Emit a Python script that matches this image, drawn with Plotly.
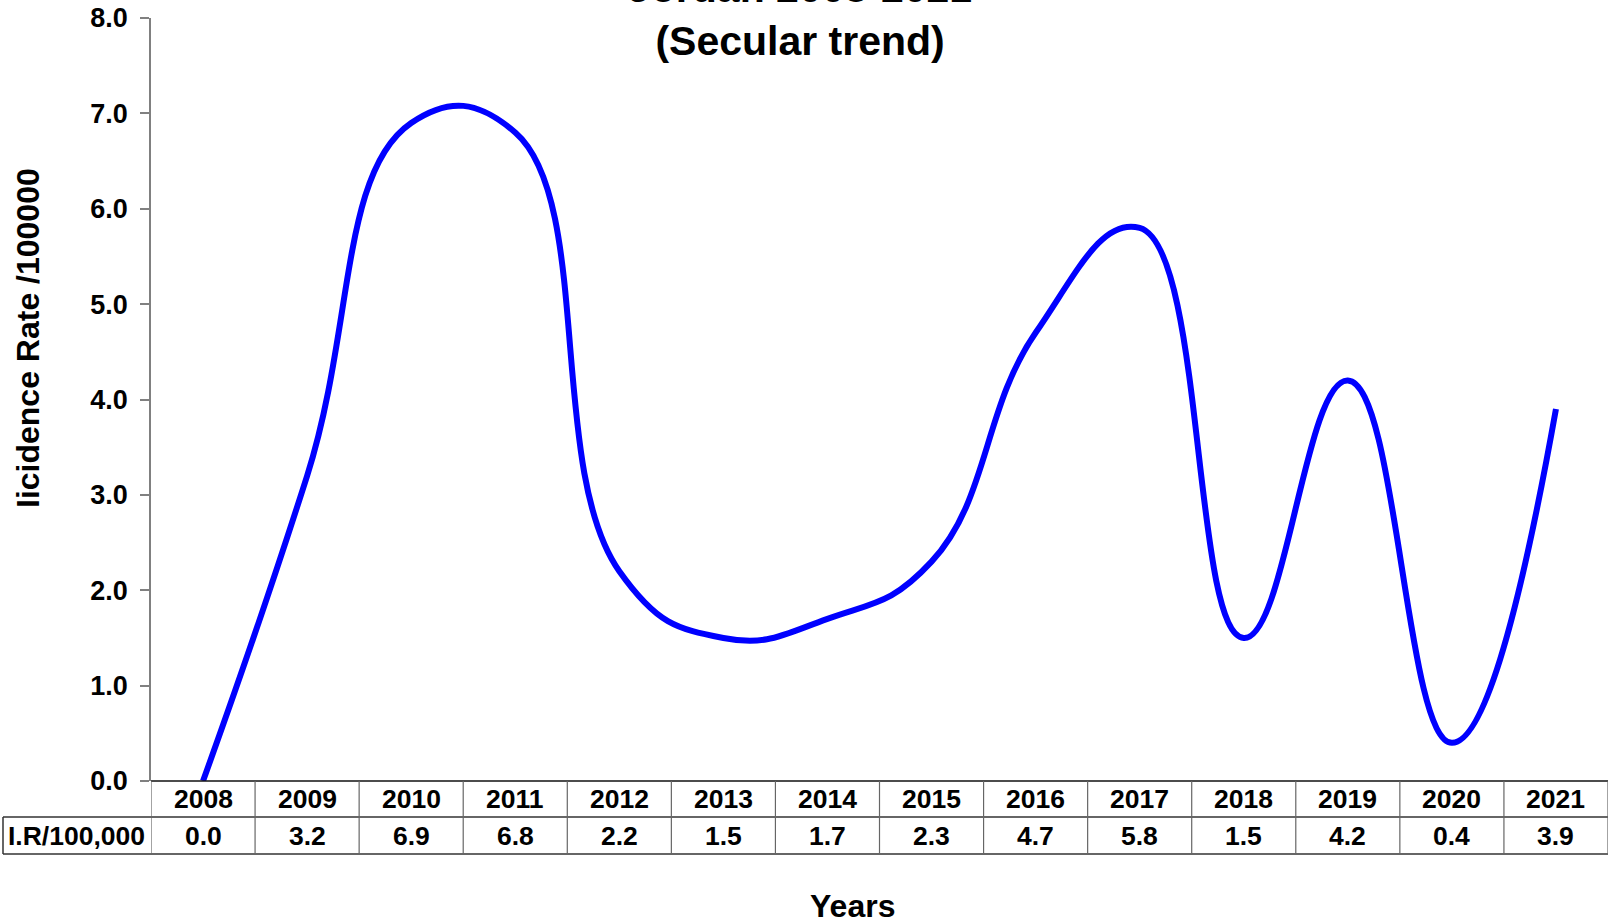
import plotly.graph_objects as go

# data
years = ['2008', '2009', '2010', '2011', '2012', '2013', '2014',
         '2015', '2016', '2017', '2018', '2019', '2020', '2021']
rates = [0.0, 3.2, 6.9, 6.8, 2.2, 1.5, 1.7, 2.3, 4.7, 5.8, 1.5, 4.2, 0.4, 3.9]
y_ticks = [0, 1, 2, 3, 4, 5, 6, 7, 8]

FONT = 'Liberation Sans'
W, H = 1608, 923
L, R, T, B = 151, 0, 18, 142
PW, PH = W - L - R, H - T - B


def px_x(p):
    return (p - L) / PW


def px_y(p):
    return (H - B - p) / PH


xs = list(range(len(years)))

fig = go.Figure()
fig.add_trace(go.Scatter(
    x=xs, y=rates, mode='lines',
    line=dict(color='#0000FF', width=6, shape='spline', smoothing=1.3),
    hoverinfo='x+y', showlegend=False
))

shapes = []
row1_bot = px_y(817)
row2_bot = px_y(854)
lab_left = px_x(3)
line_col = '#333333'

# table horizontal lines
shapes.append(dict(type='line', xref='paper', yref='paper', x0=0, x1=1, y0=0, y1=0,
                   line=dict(color='#111111', width=1.5)))
shapes.append(dict(type='line', xref='paper', yref='paper', x0=lab_left, x1=1,
                   y0=row1_bot, y1=row1_bot, line=dict(color=line_col, width=1.5)))
shapes.append(dict(type='line', xref='paper', yref='paper', x0=lab_left, x1=1,
                   y0=row2_bot, y1=row2_bot, line=dict(color=line_col, width=1.5)))
# left border of label cell
shapes.append(dict(type='line', xref='paper', yref='paper', x0=lab_left, x1=lab_left,
                   y0=row1_bot, y1=row2_bot, line=dict(color=line_col, width=1.5)))
# vertical cell separators
for i in range(len(years) + 1):
    shapes.append(dict(type='line', xref='x', yref='paper', x0=i - 0.5, x1=i - 0.5,
                       y0=0, y1=row2_bot, line=dict(color='#666666', width=1.2)))

ann = []
cell_font = dict(family=FONT, size=26.5, color='black')
for i, (yr, v) in enumerate(zip(years, rates)):
    ann.append(dict(x=i, y=px_y(799), xref='x', yref='paper', text='<b>%s</b>' % yr,
                    showarrow=False, font=cell_font, xanchor='center', yanchor='middle'))
    ann.append(dict(x=i, y=px_y(836), xref='x', yref='paper', text='<b>%.1f</b>' % v,
                    showarrow=False, font=cell_font, xanchor='center', yanchor='middle'))
ann.append(dict(x=px_x(76), y=px_y(836), xref='paper', yref='paper',
                text='<b>I.R/100,000</b>', showarrow=False, font=cell_font,
                xanchor='center', yanchor='middle'))

# axis titles and chart title
ann.append(dict(x=px_x(852), y=px_y(906), xref='paper', yref='paper', text='<b>Years</b>',
                showarrow=False, font=dict(family=FONT, size=32, color='black'),
                xanchor='center', yanchor='middle'))
ann.append(dict(x=px_x(28), y=px_y(338), xref='paper', yref='paper',
                text='<b>Iicidence Rate /100000</b>', textangle=-90, showarrow=False,
                font=dict(family=FONT, size=32, color='black'),
                xanchor='center', yanchor='middle'))
ann.append(dict(x=px_x(800), y=px_y(15), xref='paper', yref='paper',
                text='<b>Jordan 2008-2021</b><br><b>(Secular trend)</b>',
                showarrow=False, font=dict(family=FONT, size=41, color='black'),
                xanchor='center', yanchor='middle'))

fig.update_layout(
    width=W, height=H,
    margin=dict(l=L, r=R, t=T, b=B),
    paper_bgcolor='white', plot_bgcolor='white',
    showlegend=False,
    shapes=shapes,
    annotations=ann,
    xaxis=dict(range=[-0.5, len(years) - 0.5], showticklabels=False, showgrid=False,
               zeroline=False, showline=False, ticks='', fixedrange=True),
    yaxis=dict(range=[0, 8], tickvals=y_ticks,
               ticktext=['<b>%.1f</b>' % t for t in y_ticks],
               tickfont=dict(family=FONT, size=27, color='black'),
               showgrid=False, zeroline=False, showline=True, linecolor='#808080',
               linewidth=1.5, ticks='outside', ticklen=9, tickcolor='#808080',
               tickwidth=1.5, ticklabelstandoff=7),
)

# the page body has a default 8px margin; drop it so the figure sits at (0, 0)
fig.write_html('out.html', config={'displayModeBar': False},
               post_script="document.body.style.margin='0';")
